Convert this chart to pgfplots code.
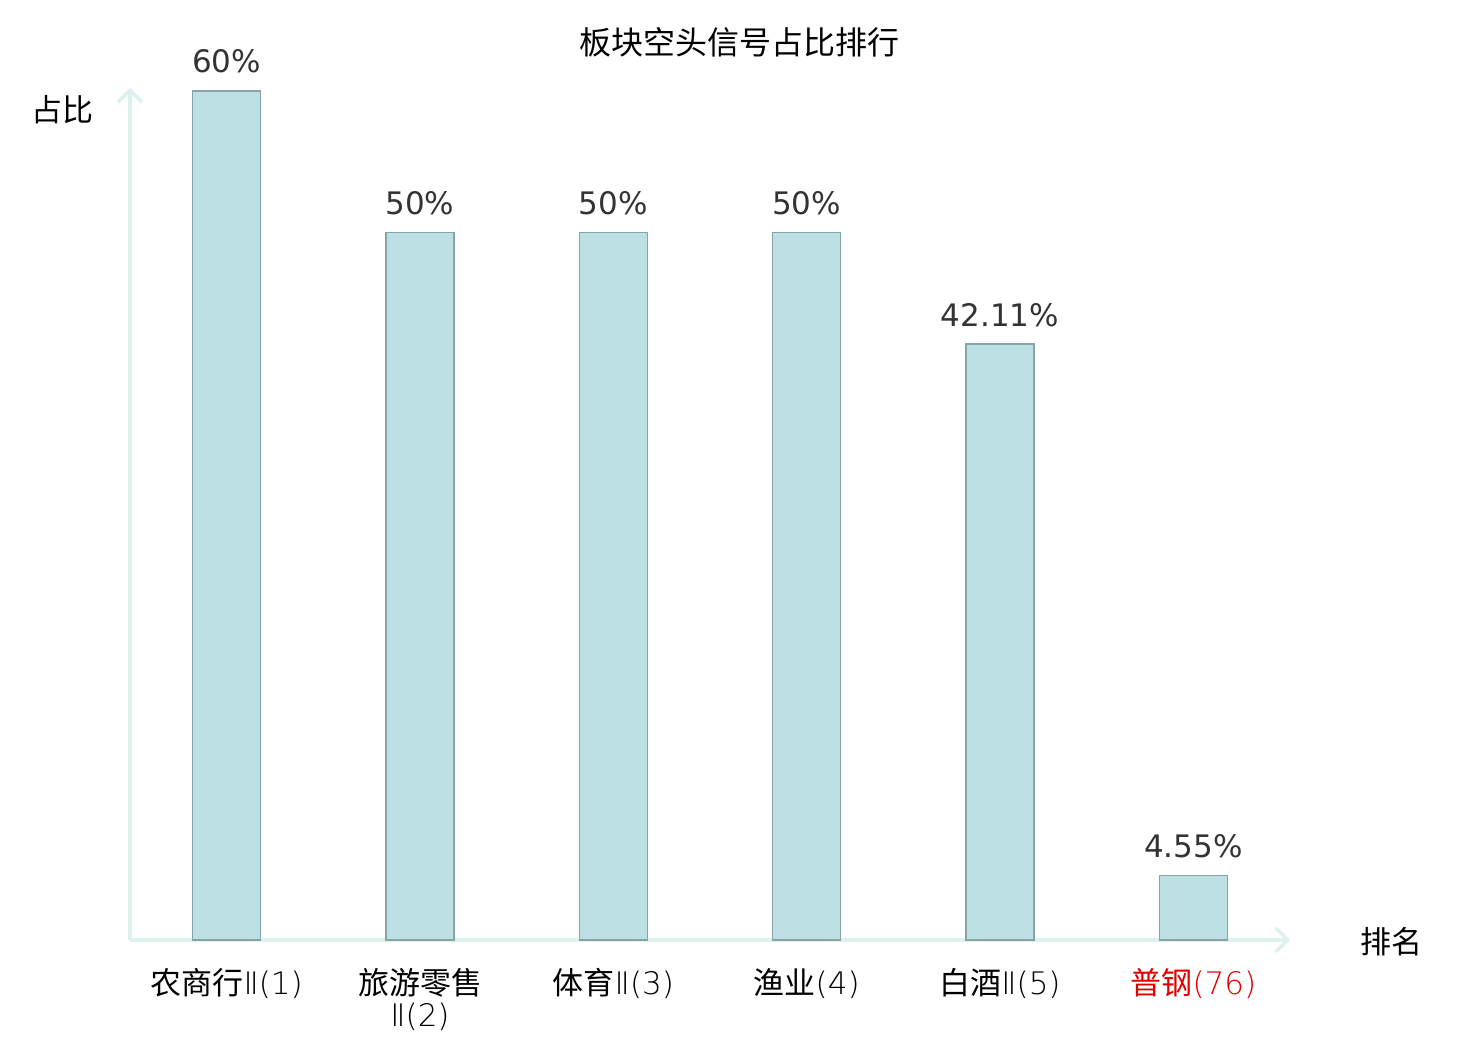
\documentclass[border=0pt]{standalone}
\usepackage{pgfplots}
\pgfplotsset{compat=1.18}
\usetikzlibrary{arrows.meta}
\usepackage{fontspec}
\setmainfont{Noto Sans CJK SC}
\newfontfamily\dejavu{DejaVu Sans}
\IfFontExistsTF{DejaVu Sans ExtraLight}{\newfontfamily\thin{DejaVu Sans ExtraLight}}{\newfontfamily\thin{DejaVu Sans}}
\newcommand{\lt}[1]{{\thin #1}}
\definecolor{barfill}{HTML}{BCE0E3}
\definecolor{baredge}{HTML}{88A4A6}
\definecolor{axiscol}{HTML}{DDF1EF}
\definecolor{lbl}{HTML}{333333}
\definecolor{redlbl}{HTML}{E00000}
\begin{document}
\begin{tikzpicture}
\path[use as bounding box] (0,0) rectangle (740pt,520pt);
\begin{axis}[
  at={(65pt,50pt)}, anchor=south west,
  scale only axis, width=580pt, height=426pt,
  xmin=-0.5, xmax=5.5, ymin=0, ymax=60.2,
  axis x line=bottom, axis y line=left,
  axis line style={color=axiscol, line width=1.6pt},
  every outer x axis line/.append style={-{Straight Barb[length=6pt,width=12pt]}},
  every outer y axis line/.append style={-{Straight Barb[length=6pt,width=12pt]}},
  ytick=\empty,
  xtick=data,
  major tick length=0pt,
  xticklabels={农商行\lt{Ⅱ(1)}, {旅游零售\\\lt{Ⅱ(2)}}, 体育\lt{Ⅱ(3)}, 渔业\lt{(4)}, 白酒\lt{Ⅱ(5)}, {\color{redlbl}普钢\lt{(76)}}},
  xticklabel style={align=center, font=\fontsize{15.5pt}{16pt}\selectfont, yshift=-10.5pt},
  ybar, bar width=0.352,
  nodes near coords={\pgfplotspointmeta},
  point meta=explicit symbolic,
  every node near coord/.append style={font=\dejavu\fontsize{15.5pt}{16pt}\selectfont, text=lbl, yshift=5pt},
  clip=false,
]
\addplot[fill=barfill, draw=baredge, line width=0.8pt] coordinates {
 (0,60) [60\%]
 (1,50) [50\%]
 (2,50) [50\%]
 (3,50) [50\%]
 (4,42.11) [42.11\%]
 (5,4.55) [4.55\%]
};
\end{axis}
\node[font=\fontsize{16pt}{18pt}\selectfont] at (369.5pt,499pt) {板块空头信号占比排行};
\node[font=\fontsize{15.5pt}{16pt}\selectfont] at (31.5pt,465pt) {占比};
\node[font=\fontsize{15.5pt}{16pt}\selectfont] at (695.5pt,49pt) {排名};
\end{tikzpicture}
\end{document}
